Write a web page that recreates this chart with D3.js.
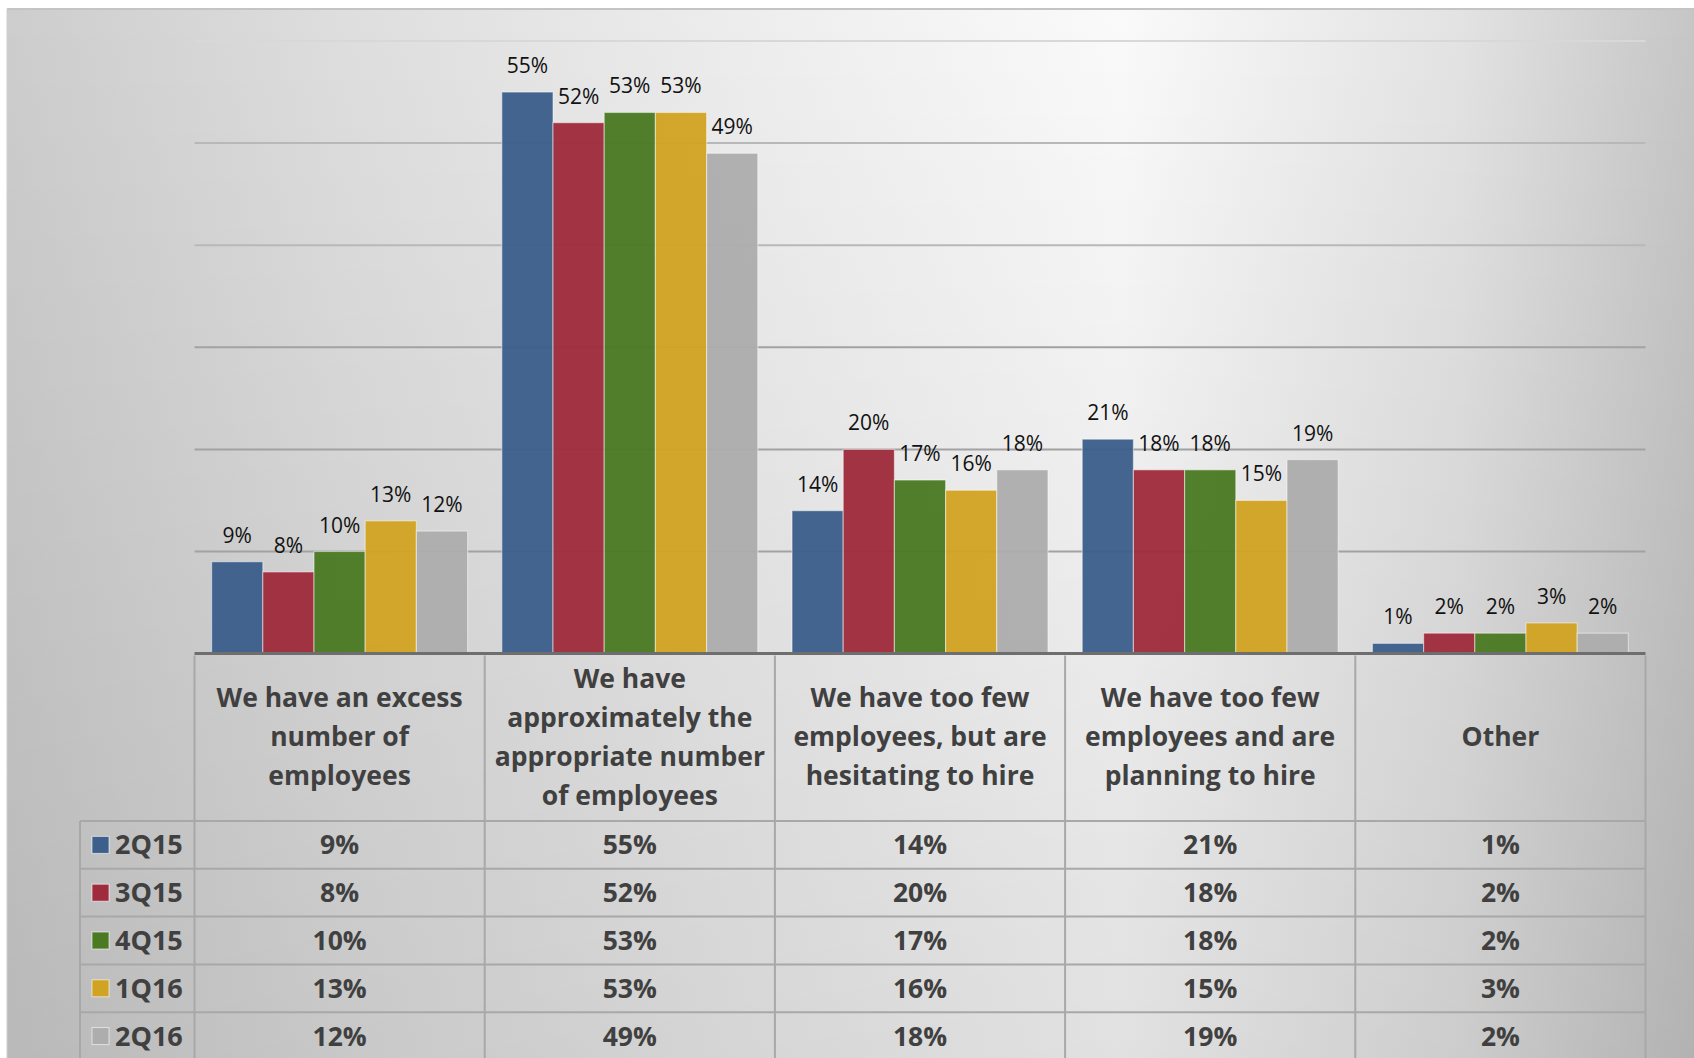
<!DOCTYPE html>
<html>
<head>
<meta charset="utf-8">
<script src="https://cdn.jsdelivr.net/npm/d3@7"></script>
<style>
  body { margin: 0; background: #fff; }
  text { font-family: "Open Sans", Lato, sans-serif; }
</style>
</head>
<body>
<div id="chart"></div>
<script>
// chart data
const categories = [
  ["We have an excess", "number of", "employees"],
  ["We have", "approximately the", "appropriate number", "of employees"],
  ["We have too few", "employees, but are", "hesitating to hire"],
  ["We have too few", "employees and are", "planning to hire"],
  ["Other"]
];
const seriesNames = ["2Q15", "3Q15", "4Q15", "1Q16", "2Q16"];
const seriesColors = ["#3c5f8b", "#9e2c3c", "#4b7a22", "#d0a322", "#adadad"];
const v2Q15 = [9, 55, 14, 21, 1];
const v3Q15 = [8, 52, 20, 18, 2];
const v4Q15 = [10, 53, 17, 18, 2];
const v1Q16 = [13, 53, 16, 15, 3];
const v2Q16 = [12, 49, 18, 19, 2];
const seriesValues = [v2Q15, v3Q15, v4Q15, v1Q16, v2Q16];
const yTicks = [0, 10, 20, 30, 40, 50, 60];

const width = 1694, height = 1058;
const plotLeft = 194.5, plotRight = 1645.5;
const baseY = 653.6, topY = 41;
const headerBottom = 821;
const rowH = 47.8;
const legendLeft = 80;

const svg = d3.select("#chart").append("svg")
  .attr("width", width)
  .attr("height", height);

// background: light in the upper middle, grey at the sides and bottom
const defs = svg.append("defs");
const hGrad = defs.append("linearGradient")
  .attr("id", "bgH")
  .attr("x1", 0).attr("x2", 1).attr("y1", 0).attr("y2", 0);
[[0, "#cdcdcd"], [0.2, "#dedede"], [0.45, "#eeeeee"], [0.66, "#fafafa"], [0.86, "#e3e3e3"], [1, "#c6c6c6"]]
  .forEach(([o, c]) => hGrad.append("stop").attr("offset", o).attr("stop-color", c));
const vGrad = defs.append("linearGradient")
  .attr("id", "bgV")
  .attr("x1", 0).attr("x2", 0).attr("y1", 0).attr("y2", 1);
vGrad.append("stop").attr("offset", 0).attr("stop-color", "#000").attr("stop-opacity", 0);
vGrad.append("stop").attr("offset", 1).attr("stop-color", "#000").attr("stop-opacity", 0.1);

svg.append("rect")
  .attr("x", 7).attr("y", 9)
  .attr("width", width - 7).attr("height", height - 9)
  .attr("fill", "url(#bgH)");
svg.append("rect")
  .attr("x", 7).attr("y", 9)
  .attr("width", width - 7).attr("height", height - 9)
  .attr("fill", "url(#bgV)");
svg.append("line")
  .attr("x1", 7).attr("x2", width).attr("y1", 9).attr("y2", 9)
  .attr("stroke", "#c4c4c4").attr("stroke-width", 2);
svg.append("line")
  .attr("x1", 7).attr("x2", 7).attr("y1", 9).attr("y2", height)
  .attr("stroke", "#cfcfcf").attr("stroke-width", 1);

// scales
const x0 = d3.scaleBand()
  .domain(d3.range(categories.length))
  .range([plotLeft, plotRight])
  .paddingInner(0.118)
  .paddingOuter(0.059);
const x1 = d3.scaleBand()
  .domain(d3.range(seriesNames.length))
  .range([0, x0.bandwidth()]);
const y = d3.scaleLinear().domain([0, 60]).range([baseY, topY]);

// gridlines
svg.append("g")
  .selectAll("line")
  .data(yTicks.filter(d => d > 0))
  .join("line")
  .attr("x1", plotLeft).attr("x2", plotRight)
  .attr("y1", d => y(d)).attr("y2", d => y(d))
  .attr("stroke", d => d === 60 ? "#d8d8d8" : (d >= 40 ? "#b8b8b8" : "#a2a2a2"))
  .attr("stroke-width", 2);

// bars
const groups = svg.append("g")
  .selectAll("g")
  .data(seriesNames)
  .join("g")
  .attr("fill", (d, i) => seriesColors[i]);

groups.each(function (name, si) {
  const g = d3.select(this);
  const vals = seriesValues[si];
  g.selectAll("rect")
    .data(vals)
    .join("rect")
    .attr("x", (d, ci) => x0(ci) + x1(si))
    .attr("y", d => y(d))
    .attr("width", x1.bandwidth())
    .attr("height", d => baseY - y(d))
    .attr("fill-opacity", 0.96)
    .attr("stroke", "rgba(255,255,255,0.45)")
    .attr("stroke-width", 1.2);
  g.selectAll("text")
    .data(vals)
    .join("text")
    .attr("x", (d, ci) => x0(ci) + x1(si) + x1.bandwidth() / 2)
    .attr("y", d => y(d) - 19)
    .attr("text-anchor", "middle")
    .attr("font-size", 21)
    .attr("fill", "#111")
    .text(d => d + "%");
});

// axis baseline
svg.append("line")
  .attr("x1", plotLeft).attr("x2", plotRight)
  .attr("y1", baseY).attr("y2", baseY)
  .attr("stroke", "#6e6e6e").attr("stroke-width", 3);

// data table
const table = svg.append("g");
const lineColor = "#a8a8a8";
const tableBottom = headerBottom + rowH * seriesNames.length;

// vertical lines of category columns
const colEdges = d3.range(categories.length + 1).map(i => plotLeft + i * (plotRight - plotLeft) / categories.length);
table.selectAll("line.col")
  .data(colEdges)
  .join("line")
  .attr("class", "col")
  .attr("x1", d => d).attr("x2", d => d)
  .attr("y1", baseY + 2).attr("y2", tableBottom)
  .attr("stroke", lineColor).attr("stroke-width", 2);

// horizontal lines of rows
const rowEdges = d3.range(seriesNames.length + 1).map(i => headerBottom + i * rowH);
table.selectAll("line.row")
  .data(rowEdges)
  .join("line")
  .attr("class", "row")
  .attr("x1", legendLeft).attr("x2", plotRight)
  .attr("y1", d => d).attr("y2", d => d)
  .attr("stroke", lineColor).attr("stroke-width", 2);
table.append("line")
  .attr("x1", legendLeft).attr("x2", legendLeft)
  .attr("y1", headerBottom).attr("y2", tableBottom)
  .attr("stroke", lineColor).attr("stroke-width", 2);

// category headers
const headerMid = (baseY + headerBottom) / 2;
const lineH = 39;
categories.forEach((lines, ci) => {
  const cx = (colEdges[ci] + colEdges[ci + 1]) / 2;
  const t = table.append("text")
    .attr("text-anchor", "middle")
    .attr("font-size", 26.5)
    .attr("font-weight", "bold")
    .attr("fill", "#404040");
  lines.forEach((ln, li) => {
    t.append("tspan")
      .attr("x", cx)
      .attr("y", headerMid + (li - (lines.length - 1) / 2) * lineH + 9)
      .text(ln);
  });
});

// rows: legend key, series name, values
seriesNames.forEach((name, si) => {
  const cy = headerBottom + si * rowH + rowH / 2;
  table.append("rect")
    .attr("x", 92).attr("y", cy - 8.5)
    .attr("width", 17).attr("height", 17)
    .attr("fill", seriesColors[si])
    .attr("stroke", "rgba(255,255,255,0.6)")
    .attr("stroke-width", 1);
  table.append("text")
    .attr("x", 115).attr("y", cy + 9.5)
    .attr("font-size", 27)
    .attr("font-weight", "bold")
    .attr("fill", "#404040")
    .text(name);
  seriesValues[si].forEach((v, ci) => {
    table.append("text")
      .attr("x", (colEdges[ci] + colEdges[ci + 1]) / 2)
      .attr("y", cy + 9.5)
      .attr("text-anchor", "middle")
      .attr("font-size", 26.5)
      .attr("font-weight", "bold")
      .attr("fill", "#404040")
      .text(v + "%");
  });
});
</script>
</body>
</html>
